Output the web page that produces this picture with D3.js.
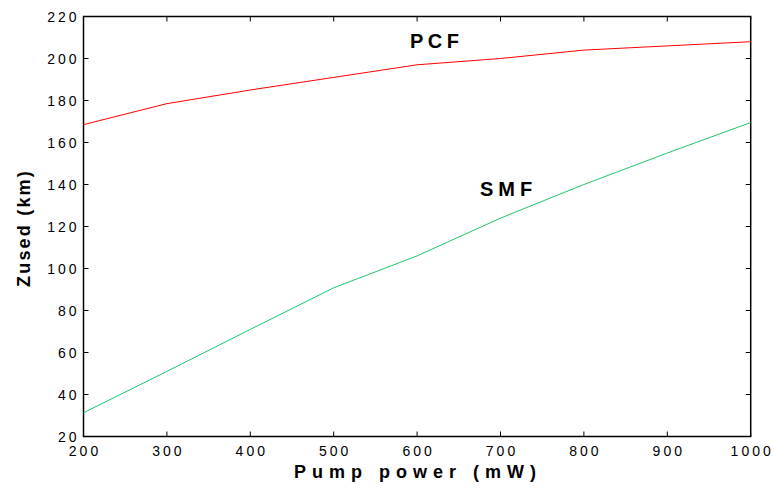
<!DOCTYPE html>
<html>
<head>
<meta charset="utf-8">
<script src="https://cdn.jsdelivr.net/npm/d3@7"></script>
<style>
  body { margin: 0; background: #fff; }
  svg { display: block; }
  text { font-family: "Liberation Sans", Arial, sans-serif; }
</style>
</head>
<body>
<svg width="774" height="488"></svg>
<script>
// Data
const pumpPower = [200, 300, 400, 500, 600, 700, 800, 900, 1000];
const pcfZ = [168.5, 178.5, 185, 191, 197, 200, 204, 206, 208];
const smfZ = [31.3, 51, 71, 90.8, 106, 124, 140, 155, 169.5];
const xTicks = [200, 300, 400, 500, 600, 700, 800, 900, 1000];
const yTicks = [20, 40, 60, 80, 100, 120, 140, 160, 180, 200, 220];

const svg = d3.select("svg");
const margin = { left: 83.5, right: 23.3, top: 16.5, bottom: 51.5 };
const width = 774 - margin.left - margin.right;
const height = 488 - margin.top - margin.bottom;

const g = svg.append("g").attr("transform", `translate(${margin.left},${margin.top})`);

const x = d3.scaleLinear().domain([200, 1000]).range([0, width]);
const y = d3.scaleLinear().domain([20, 220]).range([height, 0]);

// inward ticks on all four sides
const tickLen = 5;
g.selectAll(".xt").data(xTicks).join("line")
    .attr("x1", d => x(d)).attr("x2", d => x(d))
    .attr("y1", height).attr("y2", height - tickLen)
    .attr("stroke", "#000").attr("stroke-width", 1);
g.selectAll(".xtt").data(xTicks).join("line")
    .attr("x1", d => x(d)).attr("x2", d => x(d))
    .attr("y1", 0).attr("y2", tickLen)
    .attr("stroke", "#000").attr("stroke-width", 1);
g.selectAll(".yt").data(yTicks).join("line")
    .attr("x1", 0).attr("x2", tickLen)
    .attr("y1", d => y(d)).attr("y2", d => y(d))
    .attr("stroke", "#000").attr("stroke-width", 1);
g.selectAll(".ytr").data(yTicks).join("line")
    .attr("x1", width).attr("x2", width - tickLen)
    .attr("y1", d => y(d)).attr("y2", d => y(d))
    .attr("stroke", "#000").attr("stroke-width", 1);

// frame
g.append("rect")
    .attr("width", width).attr("height", height)
    .attr("fill", "none").attr("stroke", "#000").attr("stroke-width", 1.5);

// tick labels
const ls = 3;
g.selectAll(".xl").data(xTicks).join("text")
    .attr("x", d => x(d) + ls / 2).attr("y", height + 19)
    .attr("text-anchor", "middle")
    .attr("font-size", 14).attr("letter-spacing", ls)
    .text(d => d);
g.selectAll(".yl").data(yTicks).join("text")
    .attr("x", -7 + ls).attr("y", d => y(d) + 5)
    .attr("text-anchor", "end")
    .attr("font-size", 14).attr("letter-spacing", ls)
    .text(d => d);

// lines
const line = d3.line().x((d, i) => x(pumpPower[i])).y(d => y(d));
g.append("path").datum(pcfZ)
    .attr("d", line).attr("fill", "none")
    .attr("stroke", "#ff0000").attr("stroke-width", 1);
g.append("path").datum(smfZ)
    .attr("d", line).attr("fill", "none")
    .attr("stroke", "#1ec46a").attr("stroke-width", 1);

// series labels
svg.append("text").attr("x", 410).attr("y", 48)
    .attr("font-size", 20).attr("font-weight", "bold").attr("letter-spacing", 4.5)
    .text("PCF");
svg.append("text").attr("x", 480).attr("y", 196)
    .attr("font-size", 20).attr("font-weight", "bold").attr("letter-spacing", 5)
    .text("SMF");

// axis titles
svg.append("text").attr("x", 415 + 3).attr("y", 478)
    .attr("text-anchor", "middle")
    .attr("font-size", 18).attr("font-weight", "bold").attr("letter-spacing", 6)
    .text("Pump power (mW)");
svg.append("text")
    .attr("transform", "translate(30,228) rotate(-90)")
    .attr("text-anchor", "middle")
    .attr("font-size", 18).attr("font-weight", "bold").attr("letter-spacing", 2.2)
    .text("Zused (km)");
</script>
</body>
</html>
